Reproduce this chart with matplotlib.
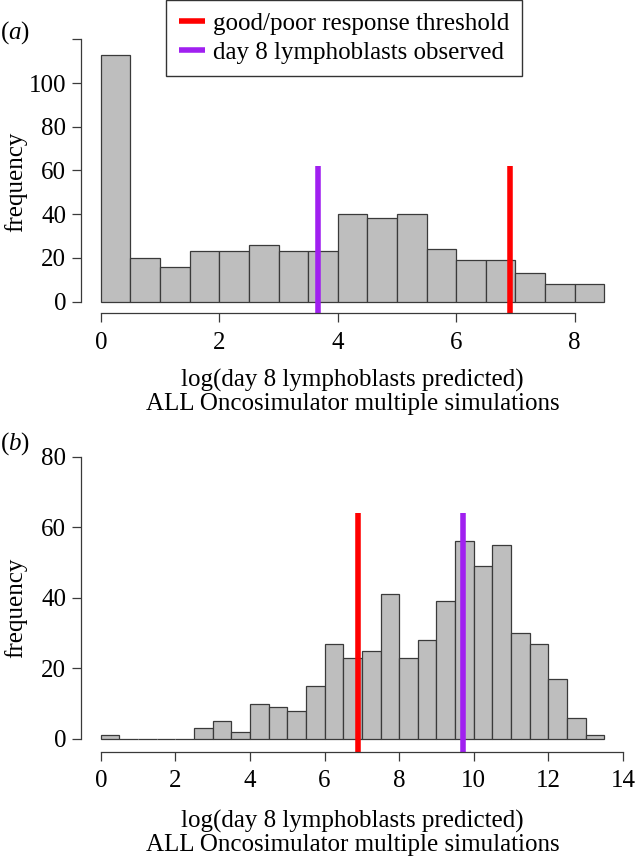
import matplotlib
matplotlib.use("Agg")
import matplotlib.pyplot as plt

plt.rcParams['font.family'] = ['Liberation Serif', 'DejaVu Serif']
plt.rcParams['mathtext.fontset'] = 'custom'
plt.rcParams['mathtext.rm'] = 'Liberation Serif'
plt.rcParams['mathtext.it'] = 'Liberation Serif:italic'

# ---------------- data ----------------
a_bin_starts = [0.0, 0.5, 1.0, 1.5, 2.0, 2.5, 3.0, 3.5, 4.0, 4.5, 5.0, 5.5, 6.0, 6.5, 7.0, 7.5, 8.0]
a_counts = [113, 20, 16, 23, 23, 26, 23, 23, 40, 38, 40, 24, 19, 19, 13, 8, 8]

b_bin_starts = [0.0, 0.5, 1.0, 1.5, 2.0, 2.5, 3.0, 3.5, 4.0, 4.5, 5.0, 5.5, 6.0, 6.5,
                7.0, 7.5, 8.0, 8.5, 9.0, 9.5, 10.0, 10.5, 11.0, 11.5, 12.0, 12.5, 13.0]
b_counts = [1, 0, 0, 0, 0, 3, 5, 2, 10, 9, 8, 15, 27, 23, 25, 41, 23, 28, 39, 56, 49, 55,
            30, 27, 17, 6, 1]
bin_width = 0.5

threshold = 6.9
a_observed = 3.66
b_observed = 9.7
a_line_top = 62
b_line_top = 64

a_xticks = [0, 2, 4, 6, 8]
a_yticks = [0, 20, 40, 60, 80, 100, 120]
a_yticklabels = ['0', '20', '40', '60', '80', '100', '']
b_xticks = [0, 2, 4, 6, 8, 10, 12, 14]
b_yticks = [0, 20, 40, 60, 80]

xlabel_lines = ["log(day 8 lymphoblasts predicted)", "ALL Oncosimulator multiple simulations"]
ylabel = "frequency"
legend_labels = ["good/poor response threshold", "day 8 lymphoblasts observed"]

RED = '#FF0000'
PURPLE = '#A020F0'
BAR = '#BEBEBE'
EDGE = '#3A3A3A'
FS = 18

W, H = 636, 860
fig = plt.figure(figsize=(W / 100, H / 100), dpi=100)

def px_axes(left, right, top, bottom):
    return fig.add_axes([left / W, 1 - bottom / H, (right - left) / W, (bottom - top) / H])

AX_L, AX_R = 80.7, 624.4
ax_a = px_axes(AX_L, AX_R, 28, 313)
ax_b = px_axes(AX_L, AX_R, 445, 751.7)

def style(ax, xlim, ylim, xticks, yticks, yticklabels, ybounds):
    ax.set_xlim(*xlim)
    ax.set_ylim(*ylim)
    for s in ['top', 'right']:
        ax.spines[s].set_visible(False)
    for s in ['left', 'bottom']:
        ax.spines[s].set_color(EDGE)
        ax.spines[s].set_linewidth(0.9)
    ax.spines['bottom'].set_bounds(xticks[0], xticks[-1])
    ax.spines['left'].set_bounds(ybounds[0], ybounds[1])
    ax.set_xticks(xticks)
    ax.set_xticklabels([str(t) for t in xticks])
    ax.set_yticks(yticks)
    ax.set_yticklabels(yticklabels)
    ax.tick_params(direction='out', length=6.5, width=0.9, color=EDGE,
                   labelsize=FS, labelcolor='black')
    ax.tick_params(axis='x', pad=7)
    ax.tick_params(axis='y', pad=4)

def labels(ylab_center_y, xlab_y1, xlab_y2):
    cx = (AX_L + AX_R) / 2 / W
    fig.text(16 / W, 1 - ylab_center_y / H, ylabel, rotation=90, fontsize=FS,
             ha='center', va='center')
    fig.text(cx, 1 - xlab_y1 / H, xlabel_lines[0], fontsize=FS, ha='center', va='center')
    fig.text(cx, 1 - xlab_y2 / H, xlabel_lines[1], fontsize=FS, ha='center', va='center')

# panel (a)
ax_a.bar(a_bin_starts, a_counts, width=bin_width, align='edge', color=BAR,
         edgecolor=EDGE, linewidth=0.9)
style(ax_a, (-0.34, 8.84), (-5.26, 125.2), a_xticks, a_yticks, a_yticklabels, (0, 120))
ax_a.plot([threshold, threshold], [-10, a_line_top], color=RED, lw=4, solid_capstyle='butt',
          label=legend_labels[0])
ax_a.plot([a_observed, a_observed], [-10, a_line_top], color=PURPLE, lw=4,
          solid_capstyle='butt', label=legend_labels[1])
labels(182, 380, 404)

# panel (b)
ax_b.bar(b_bin_starts, b_counts, width=bin_width, align='edge', color=BAR,
         edgecolor=EDGE, linewidth=0.9)
style(ax_b, (-0.54, 14.04), (-3.6, 83.3), b_xticks, b_yticks, [str(t) for t in b_yticks], (0, 80))
ax_b.plot([threshold, threshold], [-10, b_line_top], color=RED, lw=4, solid_capstyle='butt')
ax_b.plot([b_observed, b_observed], [-10, b_line_top], color=PURPLE, lw=4, solid_capstyle='butt')
labels(608, 821, 845)

# legend
handles, labs = ax_a.get_legend_handles_labels()
leg = fig.legend(handles, labs, loc='upper left', bbox_to_anchor=(166 / W, 1.0),
                 fontsize=FS, frameon=True, fancybox=False, handlelength=1.05,
                 handletextpad=0.32, borderpad=0.5, labelspacing=0.25, borderaxespad=0)
leg.get_frame().set_edgecolor('black')
leg.get_frame().set_linewidth(1.0)
for line in leg.get_lines():
    line.set_linewidth(4)

# panel letters
fig.text(0 / W, 1 - 33 / H, r'($a$)', fontsize=FS, ha='left', va='center')
fig.text(0 / W, 1 - 444 / H, r'($b$)', fontsize=FS, ha='left', va='center')

fig.savefig('out.png', dpi=100)
